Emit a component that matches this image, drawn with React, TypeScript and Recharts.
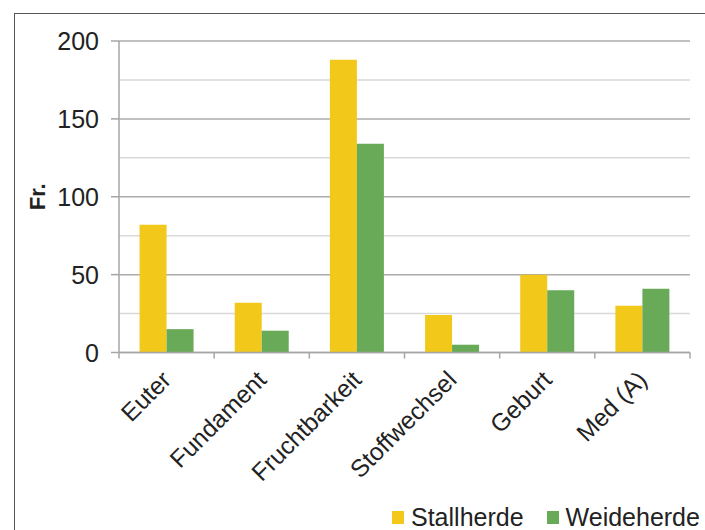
import React from 'react';
import { BarChart, Bar, XAxis, YAxis, CartesianGrid, Legend } from 'recharts';

const categories = ['Euter', 'Fundament', 'Fruchtbarkeit', 'Stoffwechsel', 'Geburt', 'Med (A)'];
const stallherde = [82, 32, 188, 24, 50, 30];
const weideherde = [15, 14, 134, 5, 40, 41];
const yTicks = [0, 50, 100, 150, 200];
const minorGrid = [25, 75, 125, 175];
const seriesNames = ['Stallherde', 'Weideherde'];
const seriesColors = ['#F2C81A', '#69AA58'];

const data = categories.map((c, i) => ({ name: c, Stallherde: stallherde[i], Weideherde: weideherde[i] }));

const FONT = '"Liberation Sans", Arial, sans-serif';
const AXIS = '#A6A6A6';

const XTick = (props: any) => {
  const { x, y, payload, index } = props;
  const off = payload && payload.offset ? payload.offset : 0;
  return (
    <g>
      {index === 0 && <line x1={x - off} x2={x - off} y1={y} y2={y + 6} stroke={AXIS} strokeWidth={1.5} />}
      <line x1={x + off} x2={x + off} y1={y} y2={y + 6} stroke={AXIS} strokeWidth={1.5} />
      <text
        x={0}
        y={0}
        transform={`translate(${x + 6},${y + 29}) rotate(-45)`}
        textAnchor="end"
        fontFamily={FONT}
        fontSize={24.5}
        fill="#222"
      >
        {payload.value}
      </text>
    </g>
  );
};

const YTick = (props: any) => {
  const { x, y, payload } = props;
  return (
    <g>
      <line x1={x - 8} x2={x} y1={y} y2={y} stroke={AXIS} strokeWidth={1.5} />
      <text x={x - 20} y={y} dy="0.36em" textAnchor="end" fontFamily={FONT} fontSize={25} fill="#222">
        {payload.value}
      </text>
    </g>
  );
};

const renderLegend = () => (
  <div style={{ display: 'flex', alignItems: 'center', fontFamily: FONT, fontSize: 25, color: '#222', whiteSpace: 'nowrap' }}>
    {seriesNames.map((n, i) => (
      <div key={n} style={{ display: 'flex', alignItems: 'center', marginRight: i === 0 ? 23 : 0 }}>
        <span style={{ display: 'inline-block', width: 12, height: 13, background: seriesColors[i], marginRight: 7 }} />
        <span>{n}</span>
      </div>
    ))}
  </div>
);

const YLabel = (props: any) => {
  const { viewBox } = props;
  const cx = 37;
  const cy = viewBox.y + viewBox.height / 2;
  return (
    <text
      x={0}
      y={0}
      transform={`translate(${cx},${cy}) rotate(-90)`}
      textAnchor="middle"
      dy="0.36em"
      fontFamily={FONT}
      fontSize={22}
      fontWeight="bold"
      fill="#222"
    >
      Fr.
    </text>
  );
};

export default function App() {
  return (
    <div style={{ position: 'absolute', left: 0, top: 0, width: 705, height: 530, background: '#fff', overflow: 'hidden' }}>
      <div
        style={{
          position: 'absolute',
          left: 14,
          top: 13,
          width: 720,
          height: 540,
          borderLeft: '1.5px solid #555',
          borderTop: '1.5px solid #555',
        }}
      />
      <div style={{ position: 'absolute', left: 0, top: 0 }}>
        <BarChart
          width={705}
          height={530}
          data={data}
          margin={{ top: 41, right: 15, left: 0, bottom: 0 }}
          barCategoryGap="21.6%"
          barGap={0}
        >
          <CartesianGrid vertical={false} horizontalValues={minorGrid} stroke="#D9D9D9" strokeWidth={1.5} />
          <CartesianGrid vertical={false} horizontalValues={yTicks} stroke="#ABABAB" strokeWidth={1.5} />
          <XAxis
            dataKey="name"
            height={177.5}
            interval={0}
            tickSize={0}
            tickMargin={0}
            tickLine={false}
            axisLine={{ stroke: AXIS, strokeWidth: 1.5 }}
            tick={<XTick />}
          />
          <YAxis
            width={119}
            domain={[0, 200]}
            ticks={yTicks}
            interval={0}
            tickSize={0}
            tickMargin={0}
            tickLine={false}
            axisLine={{ stroke: AXIS, strokeWidth: 1.5 }}
            tick={<YTick />}
            label={<YLabel />}
          />
          <Legend
            layout="horizontal"
            verticalAlign="middle"
            align="center"
            wrapperStyle={{ top: 503, left: 392, width: 320 }}
            content={renderLegend}
          />
          {seriesNames.map((n, i) => (
            <Bar key={n} dataKey={n} fill={seriesColors[i]} isAnimationActive={false} />
          ))}
        </BarChart>
      </div>
    </div>
  );
}
